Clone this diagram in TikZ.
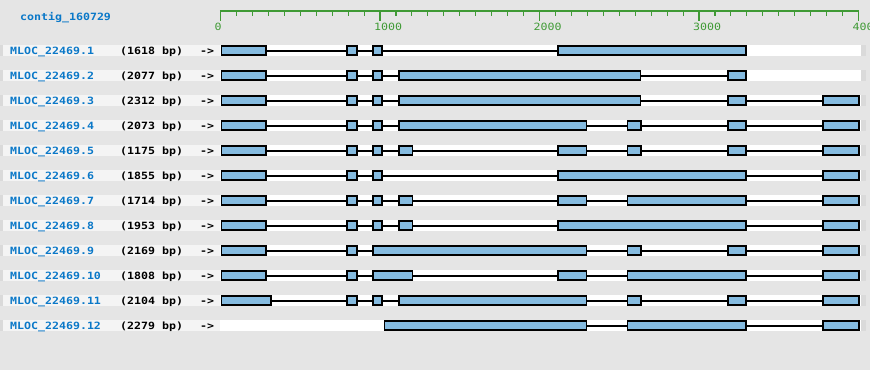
\documentclass[tikz,border=0pt]{standalone}
\usepackage{fontspec}
\newfontfamily\pixfont[FakeStretch=1.16]{DejaVu Sans Mono}
\definecolor{bg}{HTML}{E5E5E5}
\definecolor{lblbg}{HTML}{F4F4F4}
\definecolor{capbg}{HTML}{DADADA}
\definecolor{exonfill}{HTML}{85BBE0}
\definecolor{linkblue}{HTML}{0A78C8}
\definecolor{rulergreen}{HTML}{3F9A35}
\tikzset{
  rowname/.style={anchor=base west, inner sep=0pt, text=linkblue, font=\pixfont\bfseries\fontsize{10}{12}\selectfont},
  rowtext/.style={anchor=base west, inner sep=0pt, text=black, font=\pixfont\bfseries\fontsize{10}{12}\selectfont},
  rulerlabel/.style={anchor=base west, inner sep=0pt, text=rulergreen, font=\pixfont\fontsize{10}{12}\selectfont},
  exon/.style={draw=black, fill=exonfill, line width=1.7pt},
  intron/.style={draw=black, line width=2pt},
}
\newcommand\generow[6]{%
  \pgfmathsetmacro\rowtop{45+25*(#1-1)}
  \fill[capbg] (0,\rowtop) rectangle (866,\rowtop+11);
  \fill[lblbg] (3,\rowtop) rectangle (220,\rowtop+11);
  \fill[white] (220,\rowtop) rectangle (861,\rowtop+11);
  \node[rowname] (name#1) at (10,\rowtop+9) {#2};
  \node[rowtext] (len#1) at (120,\rowtop+9) {(#3 bp)};
  \node[rowtext] (dir#1) at (200,\rowtop+9) {->};
  \draw[intron] (#4,\rowtop+5.5) -- (#5,\rowtop+5.5);
  \foreach \a/\b in {#6} {\draw[exon] (\a+0.85,\rowtop+0.85) rectangle (\b-0.85,\rowtop+9.9);}
}
\begin{document}
\begin{tikzpicture}[x=1pt,y=-1pt]
\useasboundingbox (0,0) rectangle (870,370);
\fill[bg] (0,0) rectangle (870,370);
% title
\node[rowname] (title) at (20,20) {contig\_160729};
% ruler
\draw[rulergreen, line width=2.4pt] (219.8,11.2) -- (859.3,11.2);
\foreach \i in {0,...,40} {\draw[rulergreen, line width=1.1pt] (220.5+15.95*\i,11) -- (220.5+15.95*\i,15.5);}
\foreach \i/\t in {0/0,1/1000,2/2000,3/3000,4/4000} {
  \draw[rulergreen, line width=1.1pt] (220.5+159.5*\i,11) -- (220.5+159.5*\i,20.5);
  \node[rulerlabel] (tick\i) at (214.5+159.5*\i,30.5) {\t};
}
% rows
\generow{1}{MLOC\_22469.1}{1618}{266}{558}{220.5/266.7,346.3/357.7,372.3/382.7,557.3/746.7}
\generow{2}{MLOC\_22469.2}{2077}{266}{728}{220.5/266.7,346.3/357.7,372.3/382.7,398.3/641.3,727.3/746.7}
\generow{3}{MLOC\_22469.3}{2312}{266}{823}{220.5/266.7,346.3/357.7,372.3/382.7,398.3/641.3,727.3/746.7,822.3/860}
\generow{4}{MLOC\_22469.4}{2073}{266}{823}{220.5/266.7,346.3/357.7,372.3/382.7,398.3/587.3,626.7/641.7,727.3/746.7,822.3/860}
\generow{5}{MLOC\_22469.5}{1175}{266}{823}{220.5/266.7,346.3/357.7,372.3/382.7,398.3/413.3,557.3/587.3,626.7/641.7,727.3/746.7,822.3/860}
\generow{6}{MLOC\_22469.6}{1855}{266}{823}{220.5/266.7,346.3/357.7,372.3/382.7,557.3/746.7,822.3/860}
\generow{7}{MLOC\_22469.7}{1714}{266}{823}{220.5/266.7,346.3/357.7,372.3/382.7,398.3/413.3,557.3/587.3,626.7/746.7,822.3/860}
\generow{8}{MLOC\_22469.8}{1953}{266}{823}{220.5/266.7,346.3/357.7,372.3/382.7,398.3/413.3,557.3/746.7,822.3/860}
\generow{9}{MLOC\_22469.9}{2169}{266}{823}{220.5/266.7,346.3/357.7,372.3/587.3,626.7/641.7,727.3/746.7,822.3/860}
\generow{10}{MLOC\_22469.10}{1808}{266}{823}{220.5/266.7,346.3/357.7,372.3/413.3,557.3/587.3,626.7/746.7,822.3/860}
\generow{11}{MLOC\_22469.11}{2104}{271}{823}{220.5/271.7,346.3/357.7,372.3/382.7,398.3/587.3,626.7/641.7,727.3/746.7,822.3/860}
\generow{12}{MLOC\_22469.12}{2279}{587}{823}{383.6/587.3,626.7/746.7,822.3/860}
\end{tikzpicture}
\end{document}
